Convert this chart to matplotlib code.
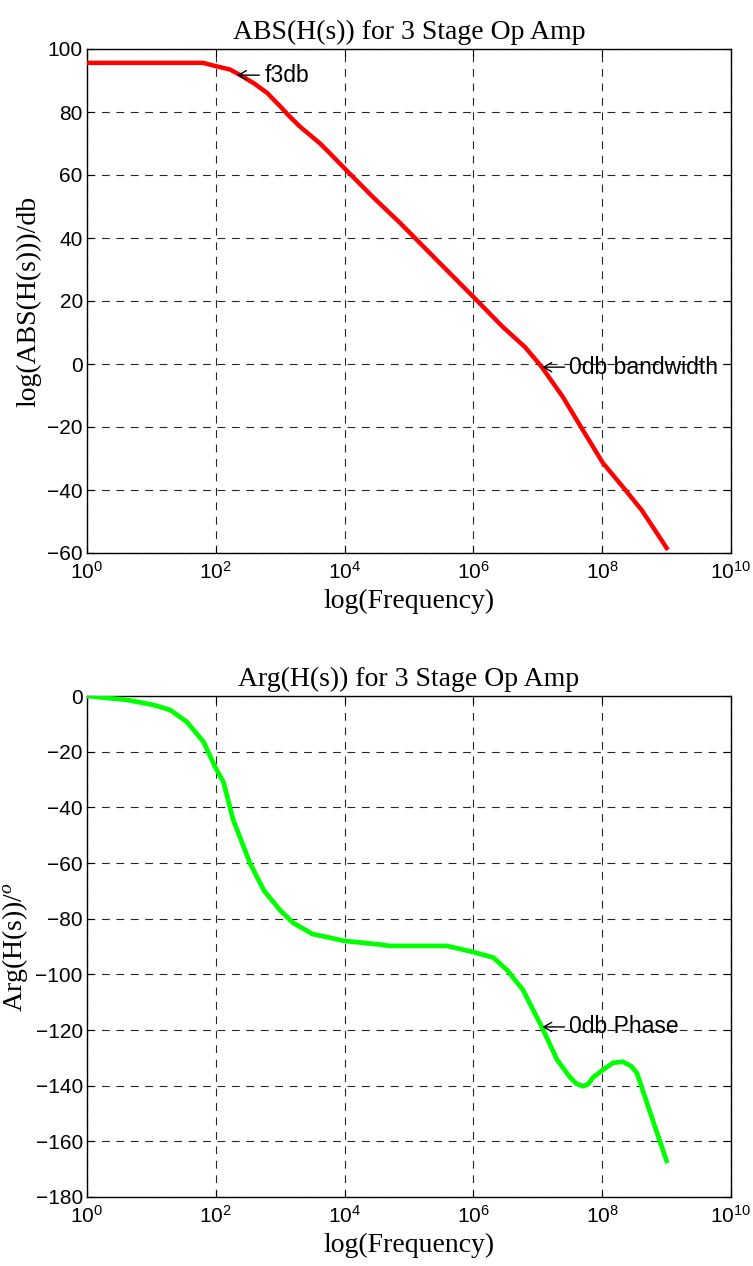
import numpy as np
import matplotlib
matplotlib.use("Agg")
import matplotlib.pyplot as plt
from matplotlib.ticker import FixedLocator, FuncFormatter, NullLocator

# ---- data ----
mag_logf = [0, 1.80, 1.99, 2.22, 2.38, 2.60, 2.80, 3.00, 3.15, 3.31, 3.62, 3.80,
            3.98, 4.13, 4.44, 4.86, 5.17, 5.48, 6.00, 6.46, 6.80, 7.06, 7.39,
            7.70, 8.01, 8.32, 8.61, 8.85, 9.00]
mag_db = [95.6, 95.6, 94.6, 93.5, 91.7, 89.0, 86.0, 81.8, 78.5, 75.3, 70.0, 66.3,
          62.5, 59.4, 53.0, 44.8, 38.4, 32.0, 21.3, 11.7, 5.4, -0.9, -10.5,
          -21.0, -31.4, -39.0, -46.3, -53.7, -58.4]

ph_logf = [0, 0.62, 1.03, 1.29, 1.55, 1.81, 1.99, 2.12, 2.27, 2.53, 2.75, 3.00,
           3.20, 3.50, 4.00, 4.55, 4.70, 5.59, 6.00, 6.31, 6.52, 6.77, 7.06,
           7.30, 7.50, 7.60, 7.70, 7.78, 7.86, 8.00, 8.17, 8.32, 8.45, 8.54, 8.75, 9.00]
ph_deg = [0, -1.4, -3.2, -5.0, -9.3, -16.5, -25.5, -31.0, -44.5, -60.0, -70.0, -77.0,
          -81.5, -85.5, -88.0, -89.3, -89.8, -89.8, -92.0, -94.0, -98.4, -105.6, -118.8,
          -130.7, -137.0, -139.3, -140.2, -139.5, -137.0, -134.5, -131.8, -131.4, -133.0,
          -135.5, -150.0, -167.0]

x_ticks_exp = [0, 2, 4, 6, 8, 10]
mag_yticks = [-60, -40, -20, 0, 20, 40, 60, 80, 100]
ph_yticks = [-180, -160, -140, -120, -100, -80, -60, -40, -20, 0]

ann_mag = [(2.33, 91.7, "f3db"), (7.07, -1.0, "0db bandwidth")]
ann_ph = [(7.07, -118.9, "0db Phase")]

# ---- style ----
plt.rcParams['font.family'] = ['Liberation Sans', 'DejaVu Sans']
plt.rcParams['mathtext.fontset'] = 'custom'
plt.rcParams['mathtext.rm'] = 'Liberation Sans'
plt.rcParams['mathtext.it'] = 'Liberation Serif:italic'
plt.rcParams['mathtext.sf'] = 'Liberation Sans'

W, H = 753, 1266
fig = plt.figure(figsize=(W / 100, H / 100), dpi=100)
L, R = 87, 731
ax1 = fig.add_axes([L / W, 1 - 553 / H, (R - L) / W, (553 - 49) / H])
ax2 = fig.add_axes([L / W, 1 - 1197 / H, (R - L) / W, (1197 - 696) / H])

serif = {'family': 'Liberation Serif', 'size': 20}
tickfs = 15

def style(ax, yticks, ylim):
    ax.set_xscale('log')
    ax.set_xlim(1, 1e10)
    ax.set_ylim(*ylim)
    ax.xaxis.set_major_locator(FixedLocator([10.0 ** e for e in x_ticks_exp]))
    ax.xaxis.set_minor_locator(NullLocator())
    ax.xaxis.set_major_formatter(FuncFormatter(lambda v, p: r'$\mathregular{10^{%d}}$' % round(np.log10(v))))
    ax.yaxis.set_major_locator(FixedLocator(yticks))
    ax.tick_params(direction='in', top=True, right=True, length=5, width=0.8,
                   labelsize=tickfs, pad=3)
    ax.tick_params(axis='x', pad=6)
    ax.grid(True, color='0.15', linestyle=(0, (7, 6)), linewidth=0.8)
    for s in ax.spines.values():
        s.set_linewidth(1.0)
        s.set_color('black')

def label_arrow(ax, lx, ly, t):
    ax.annotate(t, xy=(10.0 ** lx, ly), xytext=(19.5, 0), textcoords='offset points',
                fontsize=16.5, ha='left', va='center', zorder=4,
                arrowprops=dict(arrowstyle='->,head_length=0.35,head_width=0.2',
                                lw=1.0, color='black', relpos=(0, 0.5),
                                shrinkA=1.5, shrinkB=0))

ax1.plot(10.0 ** np.array(mag_logf), mag_db, color=(1, 0, 0), lw=3.2, zorder=3,
         solid_joinstyle='round')
style(ax1, mag_yticks, (-60, 100))
ax1.set_title('ABS(H(s)) for 3 Stage Op Amp', fontdict=serif, pad=7)
ax1.set_xlabel('log(Frequency)', fontdict=serif, labelpad=4)
ax1.set_ylabel('log(ABS(H(s)))/db', fontdict=serif, labelpad=4)
for lx, ly, t in ann_mag:
    label_arrow(ax1, lx, ly, t)

ax2.plot(10.0 ** np.array(ph_logf), ph_deg, color=(0, 1, 0), lw=3.4, zorder=3,
         solid_joinstyle='round')
style(ax2, ph_yticks, (-180, 0))
ax2.set_title('Arg(H(s)) for 3 Stage Op Amp', fontdict=serif, pad=7)
ax2.set_xlabel('log(Frequency)', fontdict=serif, labelpad=4)
ax2.set_ylabel(r'Arg(H(s))/$^{o}$', fontdict=serif, labelpad=4)
for lx, ly, t in ann_ph:
    label_arrow(ax2, lx, ly, t)

fig.savefig('out.png', dpi=100)
